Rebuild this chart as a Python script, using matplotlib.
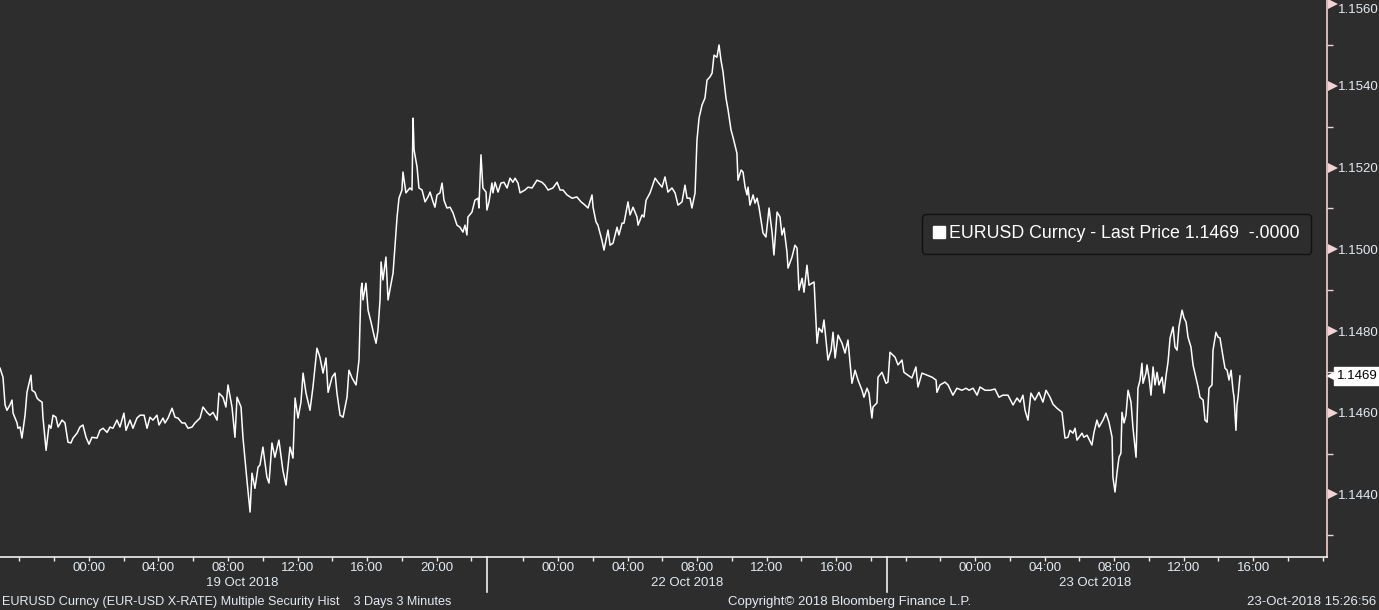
import numpy as np
import matplotlib.pyplot as plt
from matplotlib.lines import Line2D

# EURUSD 3-minute closes, x in trading hours from 19 Oct 00:00 (weekend squeezed out)
hours = [-5.12, -4.95, -4.83, -4.72, -4.55, -4.43, -4.37, -4.14, -4.09, -3.97,
         -3.86, -3.68, -3.57, -3.34, -3.28, -3.11, -2.99, -2.88, -2.70, -2.65,
         -2.47, -2.30, -2.19, -2.07, -1.90, -1.78, -1.55, -1.38, -1.21, -1.04,
         -0.92, -0.69, -0.52, -0.35, -0.17, 0.00, 0.17, 0.46, 0.63, 0.81,
         1.04, 1.21, 1.38, 1.61, 1.78, 2.01, 2.13, 2.36, 2.53, 2.76,
         2.94, 3.17, 3.34, 3.51, 3.68, 3.91, 4.03, 4.26, 4.37, 4.55,
         4.78, 4.95, 5.12, 5.35, 5.52, 5.70, 5.93, 6.10, 6.39, 6.56,
         6.79, 6.96, 7.14, 7.37, 7.48, 7.71, 7.88, 8.00, 8.23, 8.40,
         8.52, 8.75, 8.86, 9.09, 9.27, 9.38, 9.55, 9.73, 9.84, 10.01,
         10.24, 10.36, 10.53, 10.70, 10.93, 11.16, 11.34, 11.57, 11.74, 11.86,
         12.03, 12.20, 12.32, 12.49, 12.72, 12.89, 13.12, 13.29, 13.47, 13.64,
         13.76, 13.99, 14.16, 14.27, 14.45, 14.62, 14.85, 14.96, 15.14, 15.37,
         15.54, 15.65, 15.71, 15.77, 15.94, 16.06, 16.23, 16.40, 16.52, 16.63,
         16.75, 16.81, 16.92, 17.09, 17.21, 17.50, 17.73, 17.84, 18.01, 18.07,
         18.24, 18.47, 18.59, 18.65, 18.71, 18.88, 18.99, 19.17, 19.34, 19.51,
         19.63, 19.80, 19.91, 20.03, 20.20, 20.32, 20.43, 20.60, 20.78, 20.95,
         21.18, 21.35, 21.52, 21.64, 21.75, 21.81, 22.04, 22.21, 22.39, 22.44,
         22.56, 22.67, 22.85, 22.90, 23.02, 23.19, 23.25, 23.37, 23.54, 23.71,
         23.88, 24.06, 24.23, 24.40, 24.52, 24.69, 24.81, 25.09, 25.27, 25.50,
         25.78, 26.07, 26.24, 26.42, 26.70, 26.94, 27.11, 27.28, 27.51, 27.80,
         28.08, 28.32, 28.55, 28.72, 28.95, 29.01, 29.18, 29.29, 29.52, 29.64,
         29.87, 29.99, 30.16, 30.39, 30.50, 30.68, 30.79, 31.02, 31.14, 31.31,
         31.54, 31.60, 31.83, 31.94, 32.06, 32.29, 32.58, 32.75, 32.98, 33.15,
         33.32, 33.55, 33.73, 33.90, 34.13, 34.30, 34.42, 34.59, 34.70, 34.88,
         34.99, 35.11, 35.28, 35.45, 35.57, 35.74, 35.86, 35.97, 36.14, 36.26,
         36.37, 36.49, 36.66, 36.78, 36.95, 37.06, 37.29, 37.35, 37.53, 37.64,
         37.76, 37.87, 37.93, 38.04, 38.22, 38.33, 38.45, 38.56, 38.79, 38.96,
         39.14, 39.31, 39.42, 39.60, 39.77, 39.88, 40.00, 40.17, 40.23, 40.46,
         40.63, 40.75, 40.86, 41.04, 41.15, 41.32, 41.44, 41.61, 41.73, 41.90,
         42.01, 42.19, 42.30, 42.53, 42.71, 42.82, 42.94, 43.11, 43.34, 43.51,
         43.68, 43.91, 44.09, 44.26, 44.49, 44.60, 44.78, 44.89, 45.06, 45.12,
         45.35, 45.41, 45.64, 45.87, 45.98, 46.10, 46.39, 46.56, 46.79, 46.90,
         47.13, 47.36, 47.59, 47.71, 47.94, 48.23, 48.52, 48.75, 48.80, 48.98,
         49.26, 49.44, 49.72, 49.95, 50.24, 50.47, 50.65, 50.88, 51.11, 51.28,
         51.57, 51.86, 52.14, 52.37, 52.60, 52.89, 53.18, 53.41, 53.58, 53.75,
         53.87, 54.04, 54.21, 54.44, 54.67, 54.90, 55.08, 55.31, 55.48, 55.71,
         56.00, 56.17, 56.34, 56.46, 56.63, 56.75, 56.86, 57.15, 57.26, 57.44,
         57.72, 57.84, 58.01, 58.13, 58.36, 58.53, 58.70, 58.88, 58.93, 59.05,
         59.16, 59.28, 59.39, 59.45, 59.57, 59.68, 59.80, 59.97, 60.08, 60.26,
         60.37, 60.49, 60.60, 60.66, 60.83, 60.89, 61.01, 61.12, 61.24, 61.35,
         61.47, 61.58, 61.76, 61.87, 61.99, 62.10, 62.22, 62.39, 62.50, 62.62,
         62.73, 62.91, 63.02, 63.14, 63.25, 63.42, 63.54, 63.71, 63.83, 63.94,
         64.12, 64.23, 64.35, 64.46, 64.63, 64.69, 64.86, 64.98, 65.09, 65.27,
         65.38, 65.50, 65.61, 65.73, 65.84, 65.90, 66.01, 66.07, 66.13, 66.24]

price = [1.14709, 1.14687, 1.14619, 1.14606, 1.14619, 1.14631, 1.14599, 1.14575, 1.14562, 1.14565,
         1.14538, 1.14594, 1.14650, 1.14692, 1.14655, 1.14650, 1.14636, 1.14631, 1.14626, 1.14589,
         1.14508, 1.14570, 1.14562, 1.14594, 1.14589, 1.14565, 1.14582, 1.14575, 1.14528, 1.14526,
         1.14538, 1.14550, 1.14565, 1.14570, 1.14540, 1.14523, 1.14540, 1.14538, 1.14557, 1.14562,
         1.14552, 1.14565, 1.14562, 1.14582, 1.14565, 1.14599, 1.14557, 1.14582, 1.14562, 1.14587,
         1.14594, 1.14594, 1.14562, 1.14589, 1.14582, 1.14594, 1.14570, 1.14587, 1.14575, 1.14587,
         1.14611, 1.14589, 1.14587, 1.14575, 1.14575, 1.14562, 1.14565, 1.14575, 1.14587, 1.14614,
         1.14601, 1.14594, 1.14601, 1.14582, 1.14648, 1.14638, 1.14614, 1.14668, 1.14614, 1.14540,
         1.14638, 1.14614, 1.14540, 1.14435, 1.14357, 1.14452, 1.14415, 1.14467, 1.14472, 1.14516,
         1.14442, 1.14428, 1.14526, 1.14491, 1.14533, 1.14459, 1.14423, 1.14516, 1.14489, 1.14636,
         1.14587, 1.14626, 1.14697, 1.14648, 1.14606, 1.14663, 1.14758, 1.14736, 1.14697, 1.14734,
         1.14650, 1.14687, 1.14697, 1.14648, 1.14594, 1.14589, 1.14638, 1.14704, 1.14685, 1.14668,
         1.14729, 1.14900, 1.14917, 1.14876, 1.14917, 1.14851, 1.14822, 1.14790, 1.14770, 1.14802,
         1.14876, 1.14969, 1.14925, 1.14981, 1.14876, 1.14942, 1.15079, 1.15125, 1.15145, 1.15189,
         1.15138, 1.15150, 1.15145, 1.15321, 1.15243, 1.15201, 1.15150, 1.15145, 1.15116, 1.15128,
         1.15140, 1.15116, 1.15103, 1.15133, 1.15138, 1.15162, 1.15120, 1.15101, 1.15103, 1.15089,
         1.15059, 1.15054, 1.15042, 1.15059, 1.15035, 1.15079, 1.15091, 1.15120, 1.15125, 1.15101,
         1.15231, 1.15150, 1.15140, 1.15096, 1.15116, 1.15162, 1.15138, 1.15164, 1.15140, 1.15162,
         1.15164, 1.15150, 1.15174, 1.15164, 1.15174, 1.15162, 1.15138, 1.15145, 1.15152, 1.15150,
         1.15169, 1.15164, 1.15157, 1.15145, 1.15150, 1.15164, 1.15145, 1.15145, 1.15133, 1.15125,
         1.15128, 1.15116, 1.15108, 1.15101, 1.15133, 1.15103, 1.15067, 1.15059, 1.15022, 1.14998,
         1.15047, 1.15010, 1.15015, 1.15054, 1.15035, 1.15064, 1.15064, 1.15116, 1.15084, 1.15103,
         1.15079, 1.15059, 1.15084, 1.15079, 1.15120, 1.15138, 1.15174, 1.15164, 1.15152, 1.15177,
         1.15140, 1.15150, 1.15138, 1.15108, 1.15116, 1.15157, 1.15125, 1.15125, 1.15101, 1.15138,
         1.15267, 1.15321, 1.15353, 1.15370, 1.15414, 1.15422, 1.15431, 1.15475, 1.15470, 1.15500,
         1.15463, 1.15434, 1.15370, 1.15341, 1.15292, 1.15275, 1.15235, 1.15169, 1.15194, 1.15189,
         1.15152, 1.15133, 1.15152, 1.15108, 1.15133, 1.15113, 1.15125, 1.15103, 1.15040, 1.15030,
         1.15101, 1.15042, 1.14986, 1.15091, 1.15079, 1.15035, 1.15052, 1.14993, 1.14954, 1.14981,
         1.15010, 1.15003, 1.14900, 1.14929, 1.14895, 1.14961, 1.14912, 1.14917, 1.14920, 1.14770,
         1.14807, 1.14797, 1.14827, 1.14729, 1.14753, 1.14797, 1.14734, 1.14790, 1.14770, 1.14746,
         1.14778, 1.14672, 1.14704, 1.14680, 1.14655, 1.14638, 1.14660, 1.14648, 1.14587, 1.14614,
         1.14624, 1.14687, 1.14699, 1.14672, 1.14675, 1.14748, 1.14736, 1.14717, 1.14729, 1.14699,
         1.14692, 1.14685, 1.14712, 1.14663, 1.14697, 1.14692, 1.14687, 1.14680, 1.14650, 1.14668,
         1.14675, 1.14668, 1.14643, 1.14660, 1.14655, 1.14660, 1.14655, 1.14660, 1.14643, 1.14663,
         1.14655, 1.14655, 1.14658, 1.14638, 1.14643, 1.14643, 1.14619, 1.14636, 1.14626, 1.14643,
         1.14606, 1.14582, 1.14648, 1.14631, 1.14650, 1.14626, 1.14655, 1.14638, 1.14621, 1.14611,
         1.14601, 1.14538, 1.14540, 1.14557, 1.14550, 1.14562, 1.14533, 1.14550, 1.14540, 1.14545,
         1.14521, 1.14552, 1.14582, 1.14565, 1.14582, 1.14599, 1.14577, 1.14540, 1.14442, 1.14406,
         1.14452, 1.14491, 1.14501, 1.14601, 1.14575, 1.14594, 1.14655, 1.14626, 1.14565, 1.14491,
         1.14660, 1.14680, 1.14721, 1.14672, 1.14697, 1.14717, 1.14685, 1.14643, 1.14712, 1.14668,
         1.14699, 1.14668, 1.14687, 1.14648, 1.14692, 1.14724, 1.14783, 1.14810, 1.14761, 1.14753,
         1.14810, 1.14851, 1.14832, 1.14822, 1.14785, 1.14761, 1.14717, 1.14685, 1.14663, 1.14638,
         1.14631, 1.14582, 1.14577, 1.14660, 1.14668, 1.14753, 1.14797, 1.14785, 1.14783, 1.14736,
         1.14709, 1.14704, 1.14680, 1.14704, 1.14655, 1.14638, 1.14557, 1.14619, 1.14638, 1.14690]

last_price = 1.1469
legend_text = 'EURUSD Curncy - Last Price 1.1469  -.0000'

label_hours = [0, 4, 8, 12, 16, 20, 27, 31, 35, 39, 43, 51, 55, 59, 63, 67]
label_text = ['00:00', '04:00', '08:00', '12:00', '16:00', '20:00',
              '00:00', '04:00', '08:00', '12:00', '16:00',
              '00:00', '04:00', '08:00', '12:00', '16:00']
minor_hours = [h for h in list(range(-4, 23, 2)) + list(range(25, 46, 2)) + list(range(47, 72, 2))
               if h not in label_hours]
day_hours = [8.83, 34.4, 57.9]
day_labels = ['19 Oct 2018', '22 Oct 2018', '23 Oct 2018']
day_breaks = [22.9, 45.93]

y_major = [1.1440, 1.1460, 1.1480, 1.1500, 1.1520, 1.1540, 1.1560]
y_minor = [1.1430, 1.1450, 1.1470, 1.1490, 1.1510, 1.1530, 1.1550]

bg = '#2d2d2d'
txt = '#e4ebf3'
pink = '#f2d2d2'

plt.rcParams['font.family'] = ['Liberation Sans', 'DejaVu Sans']

fig = plt.figure(figsize=(13.79, 6.10), dpi=100, facecolor=bg)
ax = fig.add_axes([0, 53 / 610, 1327 / 1379, 557 / 610], facecolor=bg)

ax.plot(hours, price, color='white', lw=1.1)

ax.set_xlim(-5.122, 71.25)
ax.set_ylim(1.14247, 1.15610)

for s in ['left', 'top']:
    ax.spines[s].set_visible(False)
ax.spines['bottom'].set_color('#f0f0f0')
ax.spines['right'].set_color(pink)
ax.spines['bottom'].set_linewidth(1.2)
ax.spines['right'].set_linewidth(1.2)

# x axis
ax.set_xticks(label_hours)
ax.set_xticklabels(label_text)
ax.set_xticks(minor_hours, minor=True)
ax.tick_params(axis='x', which='both', direction='out', length=3, width=1,
               color='#f0f0f0', labelcolor=txt, labelsize=9.5, pad=0.8)

ytr = ax.get_xaxis_transform()
for h in day_breaks:
    ax.plot([h, h], [0, -0.063], color='#f0f0f0', lw=1.2, transform=ytr, clip_on=False)
for h, lab in zip(day_hours, day_labels):
    ax.text(h, -0.047, lab, transform=ytr, ha='center', va='center', color=txt, fontsize=9.5)

# y axis on the right
ax.yaxis.tick_right()
ax.set_yticks(y_major)
ax.set_yticklabels(['%.4f' % v for v in y_major])
ax.set_yticks(y_minor, minor=True)
ax.tick_params(axis='y', which='major', length=0, pad=8, labelcolor=txt, labelsize=9.5)
ax.tick_params(axis='y', which='minor', length=4, width=1, color=pink, direction='out')
ax.get_yticklabels()[-1].set_verticalalignment('top')
xtr = ax.get_yaxis_transform()
ax.plot([1.0045] * len(y_major), y_major, ls='none', marker='>', ms=6.5, color=pink,
        mew=0, transform=xtr, clip_on=False)

# last price tag
ax.plot([1.0045], [last_price], ls='none', marker='<', ms=10, color='white', mew=0,
        transform=xtr, clip_on=False)
ax.text(1.0072, last_price, '%.4f' % last_price, transform=xtr, ha='left', va='center',
        color='black', fontsize=9.5,
        bbox=dict(boxstyle='square,pad=0.22', fc='white', ec='white'))

# legend box
handle = Line2D([], [], ls='none', marker='s', ms=8.5, color='white')
leg = ax.legend([handle], [legend_text], loc='upper left',
                bbox_to_anchor=(922 / 1379, 1 - 214 / 610), bbox_transform=fig.transFigure,
                borderaxespad=0, fontsize=12.8, handlelength=0.6, handletextpad=0.3,
                borderpad=0.64, fancybox=True, framealpha=1,
                facecolor=bg, edgecolor='#111111', labelcolor='white')
leg.get_frame().set_linewidth(1.0)

# footer
fig.text(2 / 1379, 1 - 602 / 610, 'EURUSD Curncy (EUR-USD X-RATE) Multiple Security Hist    3 Days 3 Minutes',
         ha='left', va='center', color=txt, fontsize=9.1)
fig.text(850 / 1379, 1 - 602 / 610, 'Copyright\u00a9 2018 Bloomberg Finance L.P.',
         ha='center', va='center', color=txt, fontsize=9.5)
fig.text(1376 / 1379, 1 - 602 / 610, '23-Oct-2018 15:26:56',
         ha='right', va='center', color=txt, fontsize=9.5)

plt.savefig('out.png', dpi=100, facecolor=bg)
